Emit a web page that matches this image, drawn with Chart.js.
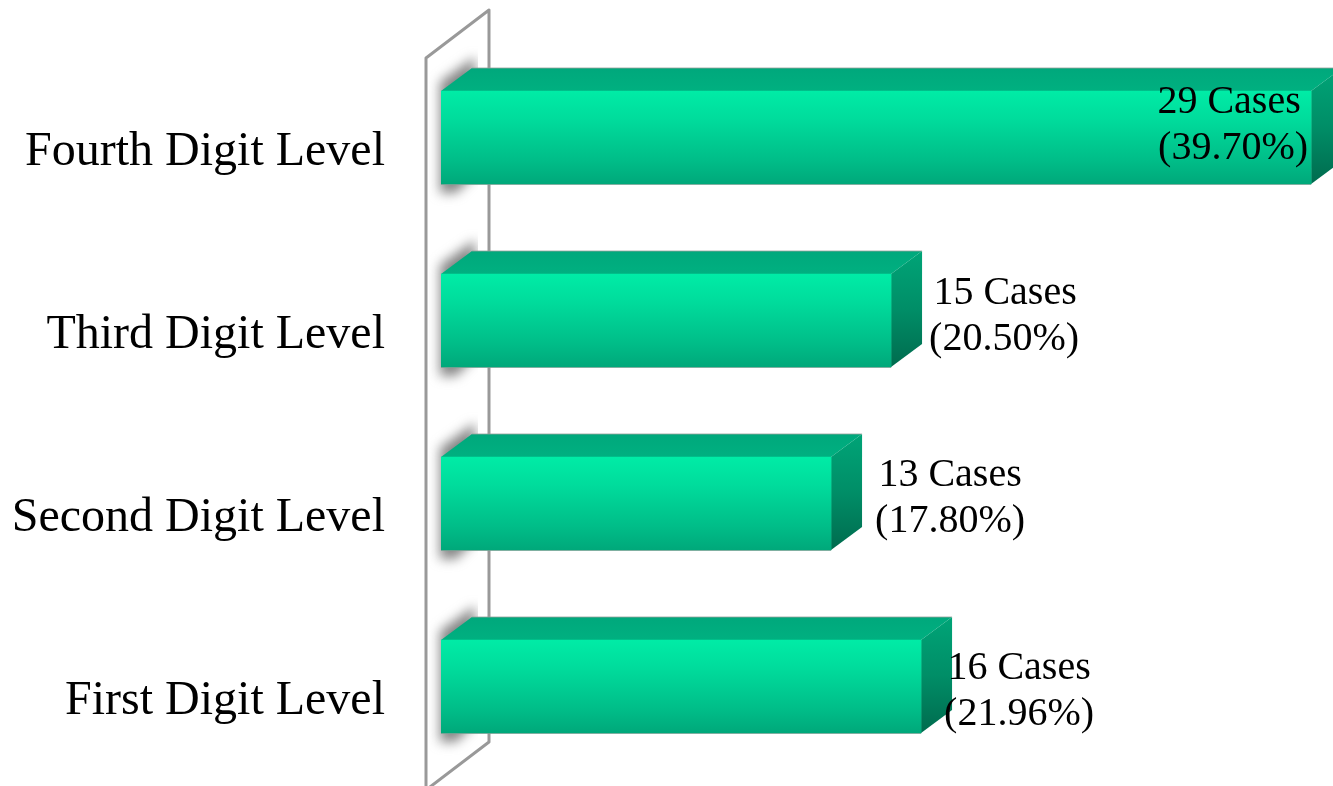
<!DOCTYPE html>
<html>
<head>
<meta charset="utf-8">
<title>Digit Level Cases</title>
<script src="https://cdn.jsdelivr.net/npm/chart.js@4/dist/chart.umd.min.js"></script>
<style>
  html, body { margin: 0; padding: 0; background: #fff; overflow: hidden; }
  canvas { display: block; }
</style>
</head>
<body>
<canvas id="digitChart" width="1333" height="786"></canvas>
<script>
const categories = ["Fourth Digit Level", "Third Digit Level", "Second Digit Level", "First Digit Level"];
const caseCounts = [29, 15, 13, 16];
const casePercents = ["39.70%", "20.50%", "17.80%", "21.96%"];

// label centre relative to the end of each bar, and first line relative to bar top
const labelShiftX = [-78, 113, 119, 98];
const labelShiftY = [11, 19, 18, 28];
const firstLineNudge = [-4, 1, 0, 0];

const FONT = '"Liberation Serif", "Times New Roman", serif';
const DEPTH_X = 31;
const DEPTH_Y = 23;
const BAR_HEIGHT = 93;

function barBox(el) {
  return { left: el.base, right: el.x, top: el.y - BAR_HEIGHT / 2, bottom: el.y + BAR_HEIGHT / 2 };
}

function poly(ctx, points) {
  ctx.beginPath();
  points.forEach((p, i) => (i ? ctx.lineTo(p[0], p[1]) : ctx.moveTo(p[0], p[1])));
  ctx.closePath();
}

function frontGradient(ctx, top, bottom) {
  const g = ctx.createLinearGradient(0, top, 0, bottom);
  g.addColorStop(0, "#00eca6");
  g.addColorStop(0.3, "#00dc9c");
  g.addColorStop(0.75, "#00bd88");
  g.addColorStop(1, "#00a87a");
  return g;
}

const wallAndDepth = {
  id: "wallAndDepth",
  beforeDatasetsDraw(chart) {
    const ctx = chart.ctx;
    const area = chart.chartArea;
    const bars = chart.getDatasetMeta(0).data;
    const wallFront = area.left - 15;
    const wallBack = area.left + 48;
    const wall = [
      [wallFront, area.top + 12],
      [wallBack, area.top - 36],
      [wallBack, area.bottom - 36],
      [wallFront, area.bottom + 12]
    ];

    ctx.save();
    poly(ctx, wall);
    ctx.fillStyle = "#ffffff";
    ctx.fill();
    ctx.lineWidth = 3;
    ctx.lineJoin = "round";
    ctx.strokeStyle = "#999999";
    ctx.stroke();
    ctx.restore();

    // soft shadow that the bar ends throw on the wall
    ctx.save();
    ctx.beginPath();
    ctx.rect(wallFront + 3, 0, wallBack - wallFront - 14, chart.height);
    ctx.clip();
    bars.forEach((el) => {
      const b = barBox(el);
      ctx.save();
      ctx.filter = "blur(6px)";
      ctx.fillStyle = "rgba(110,110,110,0.85)";
      poly(ctx, [
        [b.left - 1, b.top - 9],
        [b.left + DEPTH_X + 3, b.top - DEPTH_Y - 11],
        [b.left + DEPTH_X + 3, b.bottom - 10],
        [b.left + 15, b.bottom + 9],
        [b.left - 1, b.bottom + 9]
      ]);
      ctx.fill();
      ctx.restore();
    });
    ctx.restore();

    bars.forEach((el) => {
      const b = barBox(el);
      const topFace = [
        [b.left, b.top],
        [b.left + DEPTH_X, b.top - DEPTH_Y],
        [b.right + DEPTH_X, b.top - DEPTH_Y],
        [b.right, b.top]
      ];
      const sideFace = [
        [b.right, b.top],
        [b.right + DEPTH_X, b.top - DEPTH_Y],
        [b.right + DEPTH_X, b.bottom - DEPTH_Y],
        [b.right, b.bottom]
      ];

      ctx.save();
      const topFill = ctx.createLinearGradient(0, b.top - DEPTH_Y, 0, b.top);
      topFill.addColorStop(0, "#00a87c");
      topFill.addColorStop(1, "#00b080");
      ctx.fillStyle = topFill;
      poly(ctx, topFace);
      ctx.fill();

      const sideFill = ctx.createLinearGradient(0, b.top - DEPTH_Y, 0, b.bottom);
      sideFill.addColorStop(0, "#00a477");
      sideFill.addColorStop(0.5, "#008e67");
      sideFill.addColorStop(1, "#006b4e");
      ctx.fillStyle = sideFill;
      poly(ctx, sideFace);
      ctx.fill();

      // thin grey edge along the back and the underside
      ctx.strokeStyle = "rgba(150,160,155,0.8)";
      ctx.lineWidth = 1;
      ctx.beginPath();
      ctx.moveTo(b.left + DEPTH_X, b.top - DEPTH_Y);
      ctx.lineTo(b.right + DEPTH_X, b.top - DEPTH_Y);
      ctx.moveTo(b.left, b.bottom + 0.5);
      ctx.lineTo(b.right, b.bottom + 0.5);
      ctx.stroke();
      ctx.restore();
    });
  }
};

const caseLabels = {
  id: "caseLabels",
  afterDatasetsDraw(chart) {
    const ctx = chart.ctx;
    ctx.save();
    ctx.font = "40px " + FONT;
    ctx.fillStyle = "#000";
    ctx.textAlign = "center";
    ctx.textBaseline = "middle";
    chart.getDatasetMeta(0).data.forEach((el, i) => {
      const b = barBox(el);
      const x = b.right + labelShiftX[i];
      const y = b.top + labelShiftY[i];
      ctx.fillText(caseCounts[i] + " Cases", x + firstLineNudge[i], y);
      ctx.fillText("(" + casePercents[i] + ")", x, y + 46);
    });
    ctx.restore();
  }
};

new Chart(document.getElementById("digitChart"), {
  type: "bar",
  data: {
    labels: categories,
    datasets: [
      {
        data: caseCounts,
        barThickness: BAR_HEIGHT,
        borderWidth: 0,
        backgroundColor(context) {
          const chart = context.chart;
          const mid = chart.scales.y ? chart.scales.y.getPixelForValue(context.dataIndex) : NaN;
          if (!Number.isFinite(mid)) return "#00d296";
          return frontGradient(chart.ctx, mid - BAR_HEIGHT / 2, mid + BAR_HEIGHT / 2);
        }
      }
    ]
  },
  plugins: [wallAndDepth, caseLabels],
  options: {
    indexAxis: "y",
    responsive: false,
    animation: false,
    layout: { padding: { top: 46, bottom: 8, left: 0, right: 0 } },
    plugins: { legend: { display: false }, tooltip: { enabled: false } },
    scales: {
      x: { display: false, min: 0, max: 29.73 },
      y: {
        afterFit(scale) {
          // the tick labels must not push the plot area in from top and bottom
          scale.width = 441;
          scale.paddingTop = 0;
          scale.paddingBottom = 0;
        },
        grid: { display: false, drawTicks: false },
        border: { display: false },
        ticks: {
          padding: 56,
          labelOffset: 15,
          color: "#000",
          font: { family: FONT, size: 48 }
        }
      }
    }
  }
});
</script>
</body>
</html>
